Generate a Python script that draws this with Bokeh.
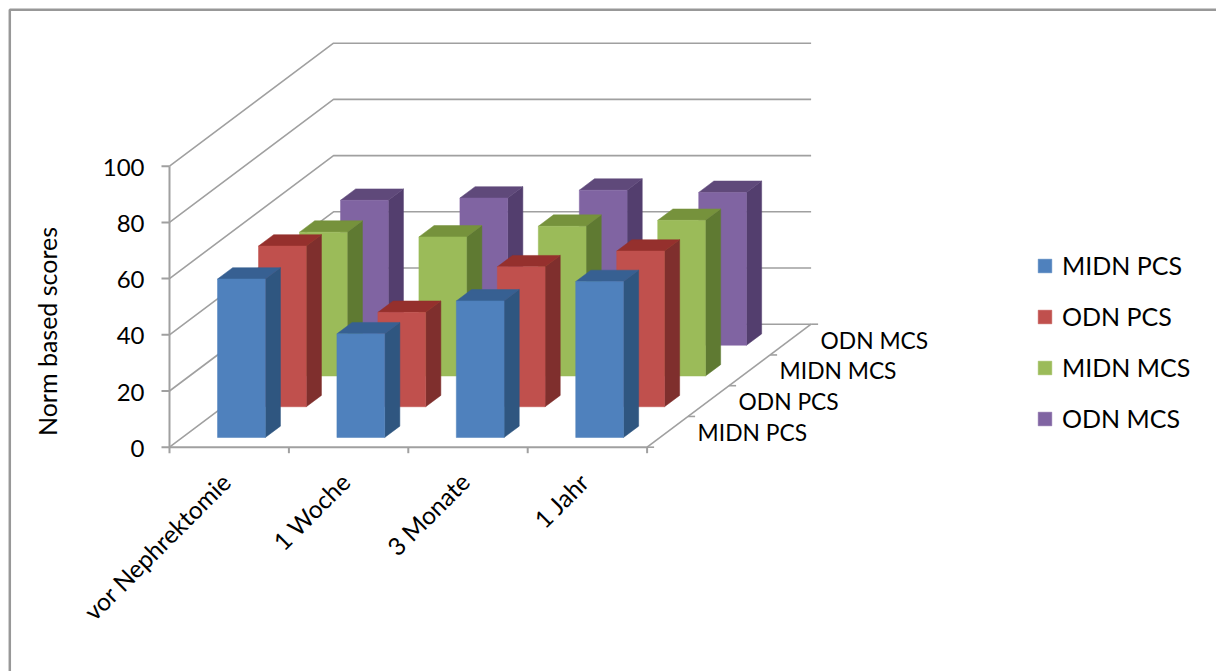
from bokeh.core.properties import value
from bokeh.embed import file_html
from bokeh.models import Legend, LegendItem
from bokeh.plotting import figure
from bokeh.resources import INLINE

# Chart data
categories = ["vor Nephrektomie", "1 Woche", "3 Monate", "1 Jahr"]
series_names = ["MIDN PCS", "ODN PCS", "MIDN MCS", "ODN MCS"]
midn_pcs = [56.4, 36.9, 48.6, 55.5]
odn_pcs = [57.2, 33.6, 49.8, 55.4]
midn_mcs = [51.2, 49.5, 53.3, 55.4]
odn_mcs = [51.6, 52.4, 55.2, 54.4]
value_ticks = [0, 20, 40, 60, 80, 100]
axis_title = "Norm based scores"

series_values = [midn_pcs, odn_pcs, midn_mcs, odn_mcs]

# Face colours per series: front, side, top
front_colors = ["#4f81bd", "#c0504d", "#9bbb59", "#8064a2"]
side_colors = ["#2f5680", "#7f2f2d", "#5f7a32", "#533e6e"]
top_colors = ["#376092", "#95302d", "#76923c", "#5f497a"]

AXIS_COLOR = "#a0a0a0"
FONT = "Lato"

# Oblique projection of (category position, series depth, value) to the canvas
ORIGIN_X, ORIGIN_Y = 169.0, 446.7
CAT_STEP = 119.4
DEPTH_DX, DEPTH_DY = 41.0, 30.75
VALUE_SCALE = 2.81
BAR_WIDTH = 0.40
BAR_DEPTH = 0.37
BAR_SHIFT = -0.006


def project(cat, depth, val):
    return (ORIGIN_X + CAT_STEP * cat + DEPTH_DX * depth,
            ORIGIN_Y - DEPTH_DY * depth - VALUE_SCALE * val)


def polygon(*corners):
    pts = [project(*c) for c in corners]
    return [q[0] for q in pts], [q[1] for q in pts]


p = figure(width=1216, height=671, x_range=(0, 1216), y_range=(671, 0),
           output_backend="svg", toolbar_location=None, min_border=0,
           background_fill_color="white", border_fill_color="white")
p.axis.visible = False
p.grid.visible = False
p.outline_line_color = None

# Outer chart frame
p.line([1216, 9.3, 9.3], [9.3, 9.3, 671], line_color="#989898", line_width=2.5)

n_cat = len(categories)
n_ser = len(series_names)

# Wall gridlines: up the side wall, then along the back wall
for v in value_ticks:
    xs, ys = polygon((0, 0, v), (0, n_ser, v), (n_cat, n_ser, v))
    p.line(xs, ys, line_color=AXIS_COLOR, line_width=1.6)

# Value axis with ticks and labels
xs, ys = polygon((0, 0, value_ticks[0]), (0, 0, value_ticks[-1]))
p.line(xs, ys, line_color=AXIS_COLOR, line_width=2)
for v in value_ticks:
    x, y = project(0, 0, v)
    p.line([x - 8, x], [y, y], line_color=AXIS_COLOR, line_width=2)
    p.text([x - 25], [y + 1], text=[str(v)], text_font=value(FONT), text_font_size="24px",
           text_align="right", text_baseline="middle", text_color="#000000")

# Category axis with ticks and slanted labels
xs, ys = polygon((0, 0, 0), (n_cat, 0, 0))
p.line(xs, ys, line_color=AXIS_COLOR, line_width=2)
for i in range(n_cat + 1):
    x, y = project(i, 0, 0)
    p.line([x, x], [y, y + 6], line_color=AXIS_COLOR, line_width=2)
for i, name in enumerate(categories):
    x, y = project(i + 0.5, 0, 0)
    p.text([x - 3], [y + 30], text=[name], text_font=value(FONT), text_font_size="24.5px",
           text_align="right", text_baseline="middle", angle=45, angle_units="deg",
           text_color="#000000")

# Depth axis with ticks and series labels
xs, ys = polygon((n_cat, 0, 0), (n_cat, n_ser, 0))
p.line(xs, ys, line_color=AXIS_COLOR, line_width=1.6)
for s in range(n_ser + 1):
    x, y = project(n_cat, s, 0)
    p.line([x, x + 7], [y, y], line_color=AXIS_COLOR, line_width=1.6)
for s, name in enumerate(series_names):
    x, y = project(n_cat, s + 0.5, 0)
    p.text([x + 30], [y], text=[name], text_font=value(FONT), text_font_size="22.8px",
           text_align="left", text_baseline="middle", text_color="#000000")

# Bars, painted from the back row to the front row
legend_items = {}
for s in reversed(range(n_ser)):
    d0 = s + (1 - BAR_DEPTH) / 2
    d1 = d0 + BAR_DEPTH
    sx, sy, tx, ty, fx, fy = [], [], [], [], [], []
    for i, v in enumerate(series_values[s]):
        c0 = i + (1 - BAR_WIDTH) / 2 + BAR_SHIFT
        c1 = c0 + BAR_WIDTH
        xs, ys = polygon((c1, d0, 0), (c1, d1, 0), (c1, d1, v), (c1, d0, v))
        sx.append(xs); sy.append(ys)
        xs, ys = polygon((c0, d0, v), (c1, d0, v), (c1, d1, v), (c0, d1, v))
        tx.append(xs); ty.append(ys)
        xs, ys = polygon((c0, d0, 0), (c1, d0, 0), (c1, d0, v), (c0, d0, v))
        fx.append(xs); fy.append(ys)
    p.patches(sx, sy, fill_color=side_colors[s], line_color=side_colors[s], line_width=0.5)
    p.patches(tx, ty, fill_color=top_colors[s], line_color=top_colors[s], line_width=0.5)
    legend_items[s] = p.patches(fx, fy, fill_color=front_colors[s], line_color=front_colors[s],
                                line_width=0.5)

legend = Legend(
    items=[LegendItem(label=series_names[s], renderers=[legend_items[s]]) for s in range(n_ser)],
    location=(1036, 671 - 433), orientation="vertical",
    glyph_width=17, glyph_height=17, label_height=17, spacing=21, margin=0, padding=0,
    label_standoff=9, background_fill_alpha=0, border_line_color=None,
    label_text_font=FONT, label_text_font_size="25px", label_text_color="#000000",
)
p.add_layout(legend, "center")

# Value axis title
p.text([46], [331], text=[axis_title], text_font=value(FONT), text_font_size="25px",
       text_align="center", text_baseline="middle", angle=90, angle_units="deg",
       text_color="#000000")

open("out.html", "w").write(file_html(p, INLINE))
